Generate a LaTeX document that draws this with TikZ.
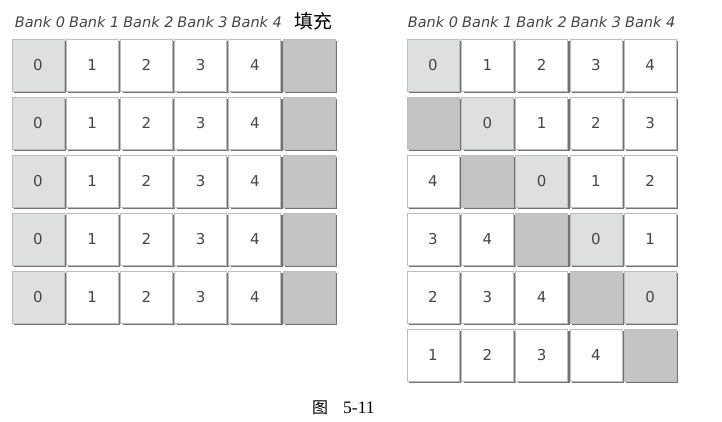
\documentclass[tikz,border=0pt]{standalone}
\usepackage{fontspec}
\setmainfont{Liberation Serif}
\newfontfamily\headfont{DejaVu Sans}
\newfontfamily\cjk{Noto Sans CJK SC}
\usetikzlibrary{shadows}
\definecolor{lightcell}{HTML}{DEE0DF}
\definecolor{padfill}{HTML}{C4C4C4}
\definecolor{edgecol}{HTML}{BDBDBD}
\definecolor{shadecol}{HTML}{737373}
\definecolor{txtcol}{HTML}{464646}
\tikzset{
  cellbox/.style={draw=edgecol, line width=0.8pt, fill=white,
    minimum width=52pt, minimum height=52pt, inner sep=0pt, text=txtcol,
    font=\headfont\fontsize{15}{15}\selectfont,
    drop shadow={shadow xshift=2.2pt, shadow yshift=-2.2pt, fill=shadecol, opacity=1}},
  zerobox/.style={cellbox, fill=lightcell},
  padbox/.style={cellbox, fill=padfill},
  bankhead/.style={anchor=base, text=txtcol, font=\headfont\itshape\fontsize{14.5}{14.5}\selectfont},
}
\begin{document}
\begin{tikzpicture}[x=1pt,y=-1pt]
\useasboundingbox (0,0) rectangle (722,421);
% left headers
\foreach \c in {0,...,4}{
  \node[bankhead] (LH\c) at ({40+54.2*\c},27) {Bank \c};
}
\node[anchor=base, font=\cjk\fontsize{19}{19}\selectfont] (LHpad) at (313,28) {填充};
% right headers
\foreach \c in {0,...,4}{
  \node[bankhead] (RH\c) at ({433+54.3*\c},27) {Bank \c};
}
% left grid
\foreach \r in {0,...,4}{
  \foreach \c in {0,...,5}{
    \pgfmathsetmacro{\cx}{38+54.2*\c}
    \pgfmathsetmacro{\cy}{65+58*\r}
    \ifnum\c=5
      \node[padbox] (L-\r-\c) at (\cx,\cy) {};
    \else\ifnum\c=0
      \node[zerobox] (L-\r-\c) at (\cx,\cy) {0};
    \else
      \node[cellbox] (L-\r-\c) at (\cx,\cy) {\c};
    \fi\fi
  }
}
% right grid
\foreach \r in {0,...,5}{
  \foreach \c in {0,...,4}{
    \pgfmathsetmacro{\cx}{433+54.3*\c}
    \pgfmathsetmacro{\cy}{65+58*\r}
    \pgfmathtruncatemacro{\v}{mod(5*\r+\c,6)}
    \ifnum\v=5
      \node[padbox] (R-\r-\c) at (\cx,\cy) {};
    \else\ifnum\v=0
      \node[zerobox] (R-\r-\c) at (\cx,\cy) {0};
    \else
      \node[cellbox] (R-\r-\c) at (\cx,\cy) {\v};
    \fi\fi
  }
}
% caption
\node[anchor=base west, inner sep=0pt] (cap) at (312,413)
  {{\cjk\fontsize{16}{16}\selectfont 图}\hspace{15pt}{\fontsize{17.5}{17.5}\selectfont 5-11}};
\end{tikzpicture}
\end{document}
